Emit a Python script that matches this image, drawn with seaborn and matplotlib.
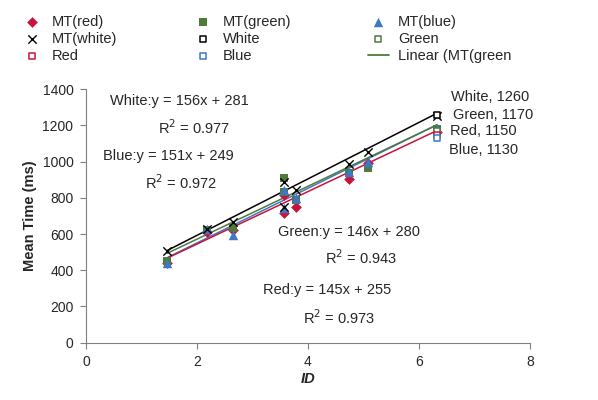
import matplotlib
matplotlib.use("Agg")
import matplotlib.pyplot as plt
import seaborn as sns
import numpy as np

sns.set_style("white")
plt.rcParams['font.family'] = ['Liberation Sans', 'DejaVu Sans']

# data
ids = [1.46, 2.18, 2.65, 3.57, 3.57, 3.78, 4.74, 5.08, 6.32]
mt_red = [440, 610, 620, 815, 716, 752, 905, 990, 1165]
mt_green = [450, 620, 633, 910, 830, 790, 935, 965, 1180]
mt_blue = [440, 627, 595, 843, 744, 800, 945, 1000, 1185]
mt_white = [506, 628, 668, 890, 751, 843, 987, 1055, 1250]

# predicted values at the largest ID (open squares with labels)
pred_id = 6.32
pred_names = ["White", "Green", "Red", "Blue"]
pred_values = [1260, 1170, 1150, 1130]

# trendline coefficients (slope, intercept, R2) as printed on the chart
fit_names = ["White", "Blue", "Green", "Red"]
fit_slopes = [156, 151, 146, 145]
fit_intercepts = [281, 249, 280, 255]
fit_r2 = ["0.977", "0.972", "0.943", "0.973"]

RED = "#C8143C"
GREEN = "#4F7A3C"
BLUE = "#3D78C6"
BLACK = "#000000"
colors = {"White": BLACK, "Green": GREEN, "Red": RED, "Blue": BLUE}

fig = plt.figure(figsize=(5.98, 4.0), dpi=100)
ax = fig.add_axes([0.1438, 0.1433, 0.7425, 0.6335])

handles = {}
# trendlines
xs = np.array([min(ids), max(ids)])
for name, a, b in zip(fit_names, fit_slopes, fit_intercepts):
    sns.lineplot(x=xs, y=a * xs + b, color=colors[name], linewidth=1.1, ax=ax, zorder=2)
handles["Linear (MT(green"] = plt.Line2D([], [], color=GREEN, linewidth=1.3)

h = ax.scatter(ids, mt_red, marker="D", s=30, color=RED, zorder=3, linewidths=0)
handles["MT(red)"] = h
h = ax.scatter(ids, mt_green, marker="s", s=36, color=GREEN, zorder=3, linewidths=0)
handles["MT(green)"] = h
h = ax.scatter(ids, mt_blue, marker="^", s=46, color=BLUE, zorder=4, linewidths=0)
handles["MT(blue)"] = h
h = ax.scatter(ids, mt_white, marker="x", s=36, color=BLACK, zorder=5, linewidths=1.0)
handles["MT(white)"] = h

for name, v in zip(pred_names, pred_values):
    h = ax.scatter([pred_id], [v], marker="s", s=22, facecolors="white",
                   edgecolors=colors[name], linewidths=1.1, zorder=6)
    handles[name] = h

# data labels
label_pos = {"White": (6.58, 1357), "Green": (6.61, 1257), "Red": (6.56, 1169), "Blue": (6.54, 1064)}
for name, v in zip(pred_names, pred_values):
    ax.text(label_pos[name][0], label_pos[name][1], "{}, {}".format(name, v),
            fontsize=10.5, ha="left", va="center", clip_on=False)

# trendline equations
eq_pos = {"White": ((0.43, 1335), (1.30, 1186)),
          "Blue": ((0.31, 1031), (1.06, 883)),
          "Green": ((3.46, 611), (4.31, 468)),
          "Red": ((3.19, 291), (3.91, 136))}
for name, a, b, r2 in zip(fit_names, fit_slopes, fit_intercepts, fit_r2):
    (ex, ey), (rx, ry) = eq_pos[name]
    ax.text(ex, ey, "{}:y = {}x + {}".format(name, a, b), fontsize=10.5, ha="left", va="center")
    ax.text(rx, ry, "R$^2$ = {}".format(r2), fontsize=10.5, ha="left", va="center")

ax.set_xlim(0, 8)
ax.set_ylim(0, 1400)
ax.set_xticks(range(0, 9, 2))
ax.set_yticks(range(0, 1401, 200))
ax.tick_params(axis="both", labelsize=10, length=4, width=0.8, color="#808080",
               direction="out", bottom=True, left=True, pad=5)
for s in ["top", "right"]:
    ax.spines[s].set_visible(False)
for s in ["left", "bottom"]:
    ax.spines[s].set_color("#808080")
    ax.spines[s].set_linewidth(0.8)

ax.set_xlabel("ID", fontsize=10.5, fontweight="bold", fontstyle="italic", labelpad=2)
ax.set_ylabel("Mean Time (ms)", fontsize=10.5, fontweight="bold", labelpad=4)

order = ["MT(red)", "MT(white)", "Red",
         "MT(green)", "White", "Blue",
         "MT(blue)", "Green", "Linear (MT(green"]
fig.legend([handles[k] for k in order], order, ncol=3, loc="upper left",
           bbox_to_anchor=(0.02, 0.985), frameon=False, fontsize=10.5,
           handlelength=1.5, handletextpad=0.6, columnspacing=5.2,
           labelspacing=0.22, borderaxespad=0.2)

fig.savefig("out.png", dpi=100)
